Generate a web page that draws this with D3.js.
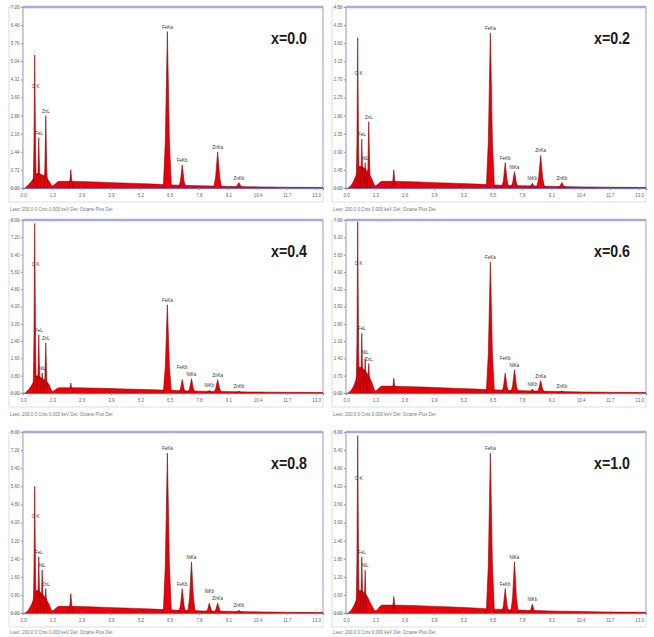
<!DOCTYPE html>
<html>
<head>
<meta charset="utf-8">
<script src="https://cdn.jsdelivr.net/npm/d3@7"></script>
<style>
  body { margin: 0; background: #fff; }
  svg  { display: block; }
  text { font-family: "Liberation Sans", Arial, sans-serif; }
</style>
</head>
<body>
<svg id="chart" width="654" height="637"></svg>
<script>
/* EDS spectra, Zn(1-x)Ni(x)Fe2O4 – six panels */

/* -- Data ---------------------------------------------------------------- */
const titles  = ["x=0.0", "x=0.2", "x=0.4", "x=0.6", "x=0.8", "x=1.0"];
const yStep   = [720, 450, 800, 700, 800, 600];          // counts per y tick
const xTicks  = [0, 1.3, 2.6, 3.9, 5.2, 6.5, 7.8, 9.1, 10.4, 11.7, 13.0];  // keV
const caption = "Lsec: 200.0  0 Cnts  0.000 keV  Det: Octane Plus  Det";

// continuum (bremsstrahlung + unresolved low-energy lines), keV / counts
const bgEnergy = [0.1, 0.25, 0.45, 0.6, 0.9, 1.15, 1.3, 1.6, 2.5, 3.5, 4.5, 5.5,
                  6.2, 7.0, 8.0, 9.0, 10.0, 11.0, 12.0, 13.3];
const bgCounts = [
  [0, 144, 360, 576, 504, 288, 86, 266, 259, 230, 198, 166, 137, 108, 86, 68, 54, 40, 29, 22],
  [0,  90, 315, 540, 450, 225, 54, 166, 162, 144, 124, 104,  86,  68, 54, 43, 34, 25, 18, 14],
  [0, 160, 480, 800, 640, 400, 80, 248, 240, 216, 188, 160, 136, 104, 84, 68, 52, 40, 32, 24],
  [0, 140, 560,1050, 840, 420, 84, 280, 266, 238, 203, 168, 140, 112, 88, 70, 53, 38, 28, 21],
  [0, 160, 560,1000, 800, 400, 96, 296, 288, 256, 220, 184, 152, 120, 92, 76, 60, 44, 32, 24],
  [0, 120, 420, 750, 600, 240, 72, 264, 258, 234, 204, 174, 144, 114, 88, 70, 56, 42, 30, 24]
];

// characteristic lines
const lineLabel  = ["O K", "FeL", "NiL", "ZnL", null, "FeKa", "FeKb", "NiKa", "NiKb", "ZnKa", "ZnKb"];
const lineEnergy = [0.52, 0.70, 0.85, 1.01, 2.12, 6.40, 7.06, 7.47, 8.26, 8.63, 9.57];
const lineWidth  = [0.07, 0.07, 0.07, 0.08, 0.10, 0.18, 0.16, 0.17, 0.16, 0.18, 0.18];
const peakCounts = [
  [5290, 1990, null, 2880, 720, 6220,  915, null, null, 1440,  216],
  [3735, 1215,  630, 1650, 450, 3850,  630,  405,  120,  810,  135],
  [7840, 2700,  930, 2320, 460, 4080,  620,  660,  120,  620,   80],
  [6930, 2415, 1400, 1190, 600, 5300,  805,  940,  160,  500,   70],
  [5600, 2480, 1900, 1080, 860, 7070, 1080, 2260,  440,  440,  120],
  [5880, 1860, 1420, null, 550, 5300,  810, 1700,  290, null, null]
];

/* -- Layout -------------------------------------------------------------- */
const svg     = d3.select("#chart");
const colLeft = [23, 346];
const plotW   = 300;
const rowTop  = [7, 220, 432];
const rowH    = [181, 173, 181];

const x = d3.scaleLinear().domain([0, 13.3]).range([0, plotW]);

const RED = "#e8000b", DARK = "#8a0000", FRAME = "#9a9ad6";

titles.forEach((title, i) => {
  const col = i % 2, row = Math.floor(i / 2);
  const h   = rowH[row];
  const g   = svg.append("g")
      .attr("transform", `translate(${colLeft[col]},${rowTop[row]})`);

  const y = d3.scaleLinear().domain([0, yStep[i] * 10]).range([h, 0]);

  /* label boxes */
  g.append("rect")
      .attr("x", -14).attr("y", 0).attr("width", 14).attr("height", h)
      .attr("fill", "#fff").attr("stroke", "#d2d2d2").attr("stroke-width", 0.8);
  g.append("rect")
      .attr("x", -14).attr("y", h + 1).attr("width", plotW + 14).attr("height", 13)
      .attr("fill", "#fff").attr("stroke", "#d8d8d8").attr("stroke-width", 0.8);

  /* plot frame */
  g.append("rect")
      .attr("width", plotW).attr("height", h)
      .attr("fill", "#fff").attr("stroke", FRAME).attr("stroke-width", 1);
  g.append("line")
      .attr("x1", 0).attr("x2", plotW).attr("y1", 0).attr("y2", 0)
      .attr("stroke", "#a8a8e6").attr("stroke-width", 2.4);

  /* axes */
  const yAxis = d3.axisLeft(y)
      .tickValues(d3.range(0, 11).map(k => k * yStep[i]))
      .tickSize(2).tickPadding(1.5)
      .tickFormat(v => (v / 1000).toFixed(2));
  const ya = g.append("g").call(yAxis);
  ya.select(".domain").remove();
  ya.selectAll("line").attr("stroke", "#999");
  ya.selectAll("text").attr("font-size", 4.5).attr("fill", "#666");

  const xAxis = d3.axisBottom(x)
      .tickValues(xTicks).tickSize(2).tickPadding(4)
      .tickFormat(d3.format(".1f"));
  const xa = g.append("g").attr("transform", `translate(0,${h})`).call(xAxis);
  xa.select(".domain").attr("stroke", "#6a6ac4");
  xa.selectAll("line").attr("stroke", "#999");
  xa.selectAll("text").attr("font-size", 4.5).attr("fill", "#666");

  /* continuum */
  const bgArea = d3.area().x(d => x(d[0])).y0(h).y1(d => y(d[1])).curve(d3.curveMonotoneX);
  const bgLine = d3.line().x(d => x(d[0])).y(d => y(d[1])).curve(d3.curveMonotoneX);
  const bg = bgEnergy.map((e, k) => [e, bgCounts[i][k]]);
  g.append("path").attr("d", bgArea(bg)).attr("fill", RED);
  g.append("path").attr("d", bgLine(bg)).attr("fill", "none")
      .attr("stroke", DARK).attr("stroke-width", 0.5);

  /* peaks */
  const pkArea = d3.area().x(d => x(d[0])).y0(h).y1(d => y(d[1]));
  const pkLine = d3.line().x(d => x(d[0])).y(d => y(d[1]));
  const labels = [];
  peakCounts[i].forEach((c, k) => {
    if (c == null) return;
    const e = lineEnergy[k], w = lineWidth[k];
    const shape = [[e - w, 0], [e - w * 0.5, c * 0.3], [e, c],
                   [e + w * 0.5, c * 0.3], [e + w, 0]];
    g.append("path").attr("d", pkArea(shape)).attr("fill", RED);
    g.append("path").attr("d", pkLine(shape)).attr("fill", "none")
        .attr("stroke", DARK).attr("stroke-width", 0.6);
    if (lineLabel[k]) labels.push({
      text: lineLabel[k],
      lx: x(e) + (k === 0 ? 1 : 0),
      ly: k === 0 ? y(c * 0.75) : y(c) - 3
    });
  });

  // lift a label that would collide with its right-hand neighbour
  for (let a = labels.length - 2; a >= 0; a--) {
    const p = labels[a], q = labels[a + 1];
    if (Math.abs(p.lx - q.lx) < 10 && Math.abs(p.ly - q.ly) < 6) p.ly = q.ly - 7;
  }

  g.selectAll("text.pk")
    .data(labels)
    .enter().append("text")
      .attr("class", "pk")
      .attr("x", d => d.lx)
      .attr("y", d => d.ly)
      .attr("text-anchor", "middle")
      .attr("font-size", 4.5)
      .attr("fill", "#333")
      .text(d => d.text);

  /* panel title */
  g.append("text")
      .attr("x", plotW - 16).attr("y", 37)
      .attr("text-anchor", "end")
      .attr("font-size", 17).attr("font-weight", "bold")
      .attr("textLength", 36).attr("lengthAdjust", "spacingAndGlyphs")
      .attr("fill", "#1a1a1a")
      .text(title);

  /* acquisition caption */
  g.append("text")
      .attr("x", -13).attr("y", Math.min(h + 23, 637 - rowTop[row] - 3))
      .attr("font-size", 4.5).attr("fill", "#777")
      .text(caption);
});
</script>
</body>
</html>
